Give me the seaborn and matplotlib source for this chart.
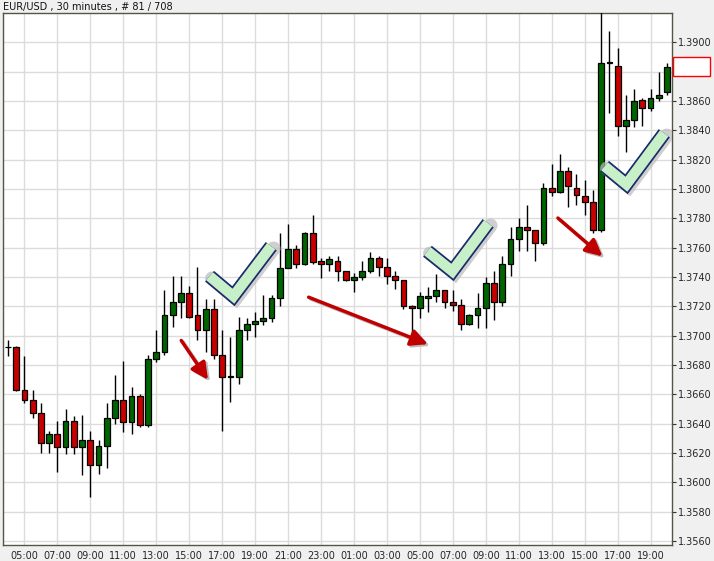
import numpy as np
import matplotlib
matplotlib.use("Agg")
import matplotlib.pyplot as plt
import seaborn as sns

opens = [1.3692,1.3692,1.3663,1.3656,1.3647,1.3627,1.3633,1.3624,1.3642,1.3624,
         1.3629,1.3612,1.3625,1.3644,1.3656,1.3641,1.3659,1.3639,1.3684,1.3689,
         1.3714,1.3723,1.3729,1.3714,1.3704,1.3718,1.3687,1.3672,1.3672,1.3704,
         1.3708,1.3710,1.3712,1.3726,1.3746,1.3759,1.3749,1.3770,1.3751,1.3749,
         1.3751,1.3744,1.3738,1.3740,1.3744,1.3753,1.3747,1.3741,1.3738,1.3720,
         1.3719,1.3726,1.3727,1.3731,1.3723,1.3721,1.3708,1.3714,1.3719,1.3736,
         1.3723,1.3749,1.3766,1.3774,1.3772,1.3763,1.3801,1.3798,1.3812,1.3801,
         1.3795,1.3791,1.3772,1.3886,1.3884,1.3843,1.3847,1.3861,1.3855,1.3862,
         1.3866]
closes = [1.3692,1.3663,1.3656,1.3647,1.3627,1.3633,1.3624,1.3642,1.3624,1.3629,
          1.3612,1.3625,1.3644,1.3656,1.3641,1.3659,1.3639,1.3684,1.3689,1.3714,
          1.3723,1.3729,1.3713,1.3704,1.3718,1.3687,1.3672,1.3672,1.3704,1.3708,
          1.3710,1.3712,1.3726,1.3746,1.3759,1.3749,1.3770,1.3750,1.3749,1.3752,
          1.3744,1.3738,1.3740,1.3744,1.3753,1.3747,1.3741,1.3738,1.3720,1.3719,
          1.3727,1.3727,1.3731,1.3723,1.3721,1.3708,1.3714,1.3719,1.3736,1.3723,
          1.3749,1.3766,1.3774,1.3772,1.3763,1.3801,1.3798,1.3812,1.3802,1.3796,
          1.3791,1.3772,1.3886,1.3886,1.3843,1.3847,1.3860,1.3855,1.3862,1.3864,
          1.3883]
highs = [1.3697,1.3693,1.3686,1.3663,1.3654,1.3635,1.3642,1.3650,1.3645,1.3646,
         1.3635,1.3629,1.3654,1.3673,1.3683,1.3665,1.3660,1.3687,1.3704,1.3731,
         1.3741,1.3741,1.3734,1.3747,1.3725,1.3725,1.3704,1.3699,1.3713,1.3712,
         1.3716,1.3728,1.3728,1.3770,1.3776,1.3762,1.3771,1.3782,1.3753,1.3754,
         1.3754,1.3744,1.3743,1.3751,1.3757,1.3754,1.3753,1.3744,1.3738,1.3721,
         1.3730,1.3733,1.3742,1.3731,1.3731,1.3725,1.3715,1.3729,1.3740,1.3744,
         1.3754,1.3774,1.3780,1.3789,1.3772,1.3804,1.3817,1.3824,1.3815,1.3810,
         1.3806,1.3799,1.3925,1.3908,1.3896,1.3864,1.3868,1.3862,1.3868,1.3880,
         1.3886]
lows = [1.3686,1.3662,1.3654,1.3644,1.3620,1.3620,1.3607,1.3619,1.3619,1.3605,
        1.3590,1.3606,1.3610,1.3640,1.3634,1.3633,1.3638,1.3638,1.3682,1.3687,
        1.3706,1.3712,1.3712,1.3697,1.3689,1.3684,1.3635,1.3655,1.3667,1.3697,
        1.3699,1.3707,1.3709,1.3720,1.3746,1.3746,1.3748,1.3749,1.3739,1.3744,
        1.3737,1.3737,1.3730,1.3738,1.3743,1.3741,1.3735,1.3732,1.3718,1.3701,
        1.3712,1.3716,1.3723,1.3719,1.3717,1.3704,1.3707,1.3705,1.3705,1.3711,
        1.3720,1.3741,1.3758,1.3758,1.3751,1.3762,1.3795,1.3797,1.3788,1.3789,
        1.3782,1.3770,1.3771,1.3852,1.3836,1.3825,1.3842,1.3843,1.3853,1.3860,
        1.3864]
tick_labels = ["05:00","07:00","09:00","11:00","13:00","15:00","17:00","19:00","21:00","23:00",
               "01:00","03:00","05:00","07:00","09:00","11:00","13:00","15:00","17:00","19:00"]
y_ticks = [1.3560 + 0.002 * k for k in range(18)]
title = "EUR/USD , 30 minutes , # 81 / 708"

sns.set_style("white")
plt.rcParams['font.family'] = ['DejaVu Sans']

W, H = 714, 561
fig = plt.figure(figsize=(W/100, H/100), dpi=100, facecolor="#f0f0f0")
ax = fig.add_axes([3/W, 16/H, 669/W, 532/H], facecolor="white")

x = np.arange(len(opens))
o = np.array(opens); c = np.array(closes)
up = c >= o
ax.vlines(x, lows, highs, color="black", lw=1.0, zorder=3)
body = np.maximum(np.abs(c - o), 0.00003)
ax.bar(x, body, bottom=np.minimum(o, c), width=0.7,
       color=np.where(up, "#006400", "#c80000"), edgecolor="black", lw=0.9, zorder=4)

ax.set_xlim(-0.6, 80.6)
ax.set_ylim(1.35573, 1.3920)
ax.set_xticks(np.arange(2, 2 + 4 * len(tick_labels), 4)[:len(tick_labels)])
ax.set_xticklabels(tick_labels, fontsize=7)
ax.set_yticks(y_ticks)
ax.set_yticklabels([f"{v:.4f}" for v in y_ticks], fontsize=7)
ax.yaxis.tick_right()
ax.tick_params(axis="both", length=3, width=0.8, color="#333333", pad=1, direction="out")
ax.grid(True, color="#dcdcdc", lw=1.0, zorder=0)
for s in ax.spines.values():
    s.set_color("#555544"); s.set_linewidth(1.0)

fig.text(3/W, 1 - 7/H, title, fontsize=7, va="center", ha="left", color="#111111")

# current price box
ax.add_patch(plt.Rectangle((1.002, 1.3877), 0.055, 0.0013, transform=ax.get_yaxis_transform(),
                           fill=True, facecolor="white", edgecolor="red", lw=1, clip_on=False, zorder=6))

def px(xp, yp):
    return ((xp - 5.4) / 8.28, 1.39 - (yp - 42) * 6.814e-5)

# arrows
for (a, b) in [((178, 338), (208, 382)), ((305, 296), (430, 345)), ((556, 216), (605, 258))]:
    p0 = px(*a); p1 = px(*b)
    ax.annotate("", xy=(p1[0] + 0.25, p1[1] - 0.00012), xytext=(p0[0] + 0.25, p0[1] - 0.00012),
                arrowprops=dict(arrowstyle="-|>,head_length=1.0,head_width=0.5", color="#bbbbbb", lw=2.5), zorder=5)
    ax.annotate("", xy=p1, xytext=p0,
                arrowprops=dict(arrowstyle="-|>,head_length=1.0,head_width=0.5", color="#c00000", lw=2.5), zorder=6)

# check marks
for pts in [[(208, 276), (232, 296), (270, 246)],
            [(427, 251), (452, 271), (488, 223)],
            [(605, 166), (627, 184), (665, 133)]]:
    d = np.array([px(*p) for p in pts])
    ax.plot(d[:, 0] + 0.3, d[:, 1] - 0.00015, color="#bbbbbb", lw=10, solid_capstyle="round", solid_joinstyle="miter", zorder=5, alpha=0.7)
    ax.plot(d[:, 0], d[:, 1], color="#1a2a6c", lw=10, solid_capstyle="butt", solid_joinstyle="miter", zorder=6)
    ax.plot(d[:, 0], d[:, 1], color="#c8f0c8", lw=7.5, solid_capstyle="butt", solid_joinstyle="miter", zorder=7)

fig.savefig("out.png", dpi=100, facecolor=fig.get_facecolor())
